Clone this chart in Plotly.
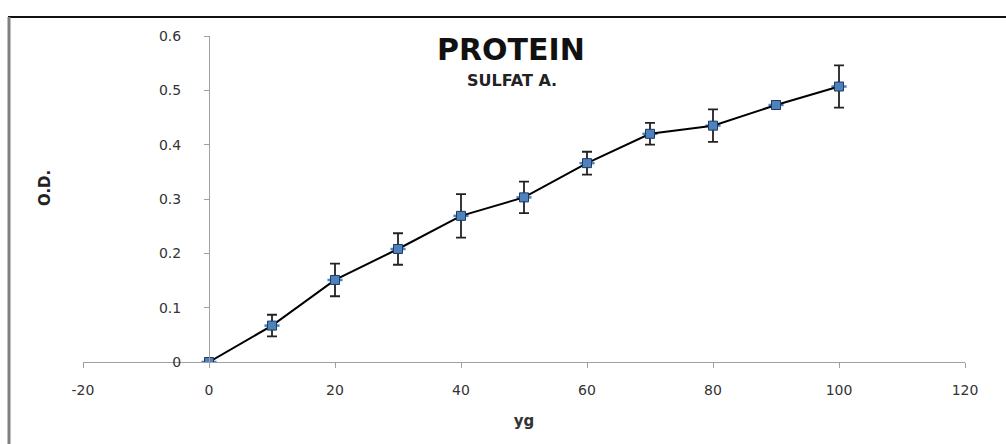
import plotly.graph_objects as go

x_vals = [0, 10, 20, 30, 40, 50, 60, 70, 80, 90, 100]
od_vals = [0.0, 0.067, 0.151, 0.208, 0.269, 0.303, 0.366, 0.420, 0.435, 0.473, 0.507]
od_err = [0.0, 0.020, 0.030, 0.029, 0.040, 0.029, 0.021, 0.020, 0.030, 0.006, 0.039]
x_err = [1.2] * len(x_vals)

x_ticks = [-20, 0, 20, 40, 60, 80, 100, 120]
y_ticks = [0, 0.1, 0.2, 0.3, 0.4, 0.5, 0.6]
y_tick_text = ["0", "0.1", "0.2", "0.3", "0.4", "0.5", "0.6"]

fig = go.Figure()
fig.add_trace(go.Scatter(
    x=x_vals, y=od_vals,
    mode="lines+markers",
    line=dict(color="black", width=2),
    marker=dict(symbol="square", size=9, color="#4F81BD",
                line=dict(color="#1F3A5F", width=1)),
    error_y=dict(type="data", array=od_err, visible=True,
                 color="#222222", thickness=1.8, width=5),
    error_x=dict(type="data", array=x_err, visible=True,
                 color="#4F81BD", thickness=2.5, width=0),
    showlegend=False,
))

tick_font = dict(family="DejaVu Sans", size=14, color="#333333")

fig.update_layout(
    width=1006, height=444,
    margin=dict(l=83, r=41, t=36, b=82),
    paper_bgcolor="white", plot_bgcolor="white",
    xaxis=dict(
        range=[-20, 120], tickvals=x_ticks, ticktext=[str(v) for v in x_ticks],
        showgrid=False, zeroline=False, showline=True, linecolor="#A0A0A0",
        linewidth=1, ticks="outside", ticklen=5, tickcolor="#A0A0A0",
        tickfont=tick_font, ticklabelstandoff=10,
        title=dict(text="<b>yg</b>", font=dict(family="DejaVu Sans", size=15, color="#333333"),
                   standoff=18),
    ),
    yaxis=dict(
        range=[0, 0.6], tickvals=y_ticks, ticktext=y_tick_text,
        showgrid=False, zeroline=False, showline=True, linecolor="#A0A0A0",
        linewidth=1, ticks="outside", ticklen=5, tickcolor="#A0A0A0",
        tickfont=tick_font, anchor="free", position=1 / 7, ticklabelstandoff=20,
    ),
    annotations=[
        dict(text="<b>PROTEIN</b>", xref="paper", yref="paper", x=(511 - 83) / 882, y=(362 - 50) / 326,
             showarrow=False, font=dict(family="DejaVu Sans", size=30, color="#111111"),
             xanchor="center", yanchor="middle"),
        dict(text="<b>SULFAT A.</b>", xref="paper", yref="paper", x=(512 - 83) / 882, y=(362 - 80) / 326,
             showarrow=False, font=dict(family="DejaVu Sans", size=16, color="#222222"),
             xanchor="center", yanchor="middle"),
        dict(text="<b>O.D.</b>", xref="paper", yref="paper", x=(45 - 83) / 882, y=(362 - 188) / 326,
             showarrow=False, textangle=-90, font=dict(family="DejaVu Sans", size=15, color="#222222"),
             xanchor="center", yanchor="middle"),
    ],
    shapes=[
        dict(type="line", xref="paper", yref="paper", x0=(8 - 83) / 882, x1=(1006 - 83) / 882,
             y0=(362 - 17) / 326, y1=(362 - 17) / 326, line=dict(color="#111111", width=2)),
        dict(type="line", xref="paper", yref="paper", x0=(9 - 83) / 882, x1=(9 - 83) / 882,
             y0=(362 - 17) / 326, y1=(362 - 444) / 326, line=dict(color="#808080", width=3)),
    ],
)

fig.write_html("out.html", config={"displayModeBar": False},
               post_script="document.body.style.margin='0';document.body.style.overflow='hidden';")
